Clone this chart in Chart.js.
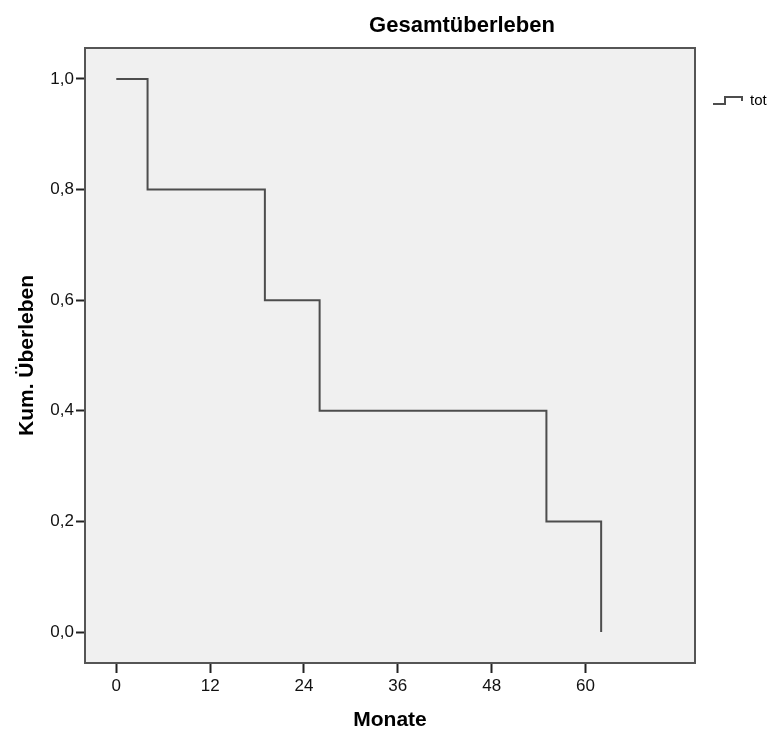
<!DOCTYPE html>
<html>
<head>
<meta charset="utf-8">
<script src="https://cdn.jsdelivr.net/npm/chart.js@4/dist/chart.umd.min.js"></script>
<style>
  body { margin: 0; background: #fff; }
  #wrap { width: 771px; height: 733px; }
</style>
</head>
<body>
<div id="wrap"><canvas id="kmChart"></canvas></div>
<script>
  // Kaplan-Meier steps
  var months = [0, 4, 19, 26, 55, 62];
  var survival = [1.0, 0.8, 0.6, 0.4, 0.2, 0.0];
  var xTicks = [0, 12, 24, 36, 48, 60];
  var yTicks = [0, 0.2, 0.4, 0.6, 0.8, 1.0];
  var seriesName = "tot";

  var points = [];
  for (var i = 0; i < months.length; i++) {
    points.push({ x: months[i], y: survival[i] });
  }

  var lineColor = '#4d4d4d';
  var font = "'Liberation Sans', Arial, sans-serif";

  // gray plot background + frame
  var frame = {
    id: 'frame',
    beforeDatasetsDraw: function(chart) {
      var c = chart.ctx, a = chart.chartArea;
      c.save();
      c.fillStyle = '#f0f0f0';
      c.fillRect(a.left, a.top, a.right - a.left, a.bottom - a.top);
      c.restore();
    },
    afterDraw: function(chart) {
      var c = chart.ctx, a = chart.chartArea;
      c.save();
      c.strokeStyle = '#555';
      c.lineWidth = 2;
      c.strokeRect(a.left, a.top, a.right - a.left, a.bottom - a.top);

      // title
      c.fillStyle = '#000';
      c.font = "bold 22px " + font;
      c.textAlign = 'center';
      c.textBaseline = 'alphabetic';
      c.fillText("Gesamtüberleben", a.left + 377, 32);

      // legend with step symbol
      var lx = a.right + 18, ly = a.top + 52;
      c.strokeStyle = lineColor;
      c.lineWidth = 2;
      c.beginPath();
      c.moveTo(lx, ly + 4);
      c.lineTo(lx + 12, ly + 4);
      c.lineTo(lx + 12, ly - 3);
      c.lineTo(lx + 29, ly - 3);
      c.lineTo(lx + 29, ly + 1);
      c.stroke();
      c.font = "15px " + font;
      c.textAlign = 'left';
      c.textBaseline = 'middle';
      c.fillText(seriesName, lx + 37, ly + 1);
      c.restore();
    }
  };

  var ctx = document.getElementById('kmChart').getContext('2d');
  var myChart = new Chart(ctx, {
    type: 'line',
    data: {
      datasets: [{
        label: seriesName,
        data: points,
        stepped: 'before',
        borderColor: lineColor,
        borderWidth: 2,
        pointRadius: 0,
        fill: false
      }]
    },
    options: {
      responsive: true,
      maintainAspectRatio: false,
      animation: false,
      layout: { padding: { top: 48, right: 76, left: 0, bottom: 0 } },
      plugins: {
        legend: { display: false },
        title: { display: false },
        tooltip: { enabled: false }
      },
      scales: {
        x: {
          type: 'linear',
          min: -4,
          max: 74,
          afterBuildTicks: function(scale) {
            scale.ticks = xTicks.map(function(v) { return { value: v }; });
          },
          afterFit: function(scale) { scale.height = 70; },
          grid: { drawOnChartArea: false, drawTicks: true, tickLength: 10, tickWidth: 2, tickColor: '#222' },
          border: { display: true, color: '#555', width: 2 },
          ticks: { color: '#111', padding: 3, font: { family: font, size: 17 } },
          title: {
            display: true,
            text: 'Monate',
            color: '#000',
            padding: { top: 0, bottom: 0 },
            font: { family: font, size: 21, weight: 'bold' }
          }
        },
        y: {
          type: 'linear',
          min: -0.056,
          max: 1.056,
          afterBuildTicks: function(scale) {
            scale.ticks = yTicks.map(function(v) { return { value: v }; });
          },
          afterFit: function(scale) { scale.width = 85; },
          grid: { drawOnChartArea: false, drawTicks: true, tickLength: 9, tickWidth: 2, tickColor: '#222' },
          border: { display: true, color: '#555', width: 2 },
          ticks: {
            color: '#111',
            padding: 2,
            font: { family: font, size: 17 },
            callback: function(v) { return v.toFixed(1).replace('.', ','); }
          },
          title: {
            display: true,
            text: 'Kum. Überleben',
            color: '#000',
            padding: { top: 15, bottom: 0 },
            font: { family: font, size: 21, weight: 'bold' }
          }
        }
      }
    },
    plugins: [frame]
  });
</script>
</body>
</html>
